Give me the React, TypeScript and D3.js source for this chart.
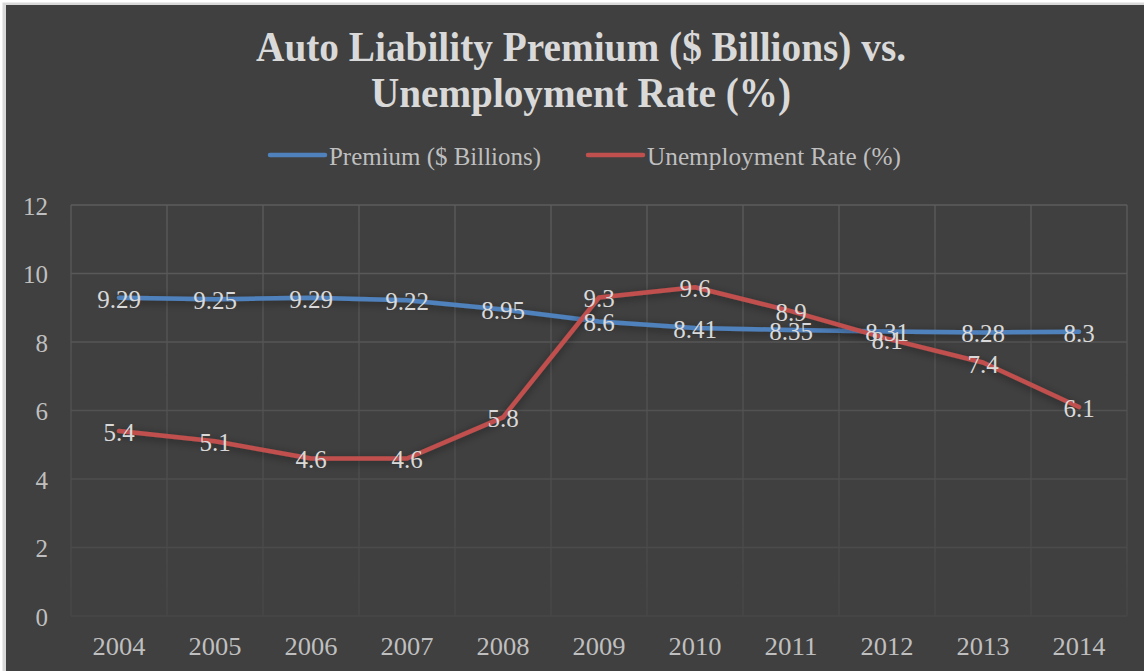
import React from 'react';
import * as d3 from 'd3';

const years = ['2004', '2005', '2006', '2007', '2008', '2009', '2010', '2011', '2012', '2013', '2014'];
const premium = [9.29, 9.25, 9.29, 9.22, 8.95, 8.6, 8.41, 8.35, 8.31, 8.28, 8.3];
const unemployment = [5.4, 5.1, 4.6, 4.6, 5.8, 9.3, 9.6, 8.9, 8.1, 7.4, 6.1];
const yTicks = [0, 2, 4, 6, 8, 10, 12];
const seriesNames = ['Premium ($ Billions)', 'Unemployment Rate (%)'];
const seriesColors = ['#4F81BD', '#C0504D'];
const titleLines = ['Auto Liability Premium ($ Billions) vs.', 'Unemployment Rate (%)'];

const W = 1144;
const H = 671;
const FONT = '"Liberation Serif", "DejaVu Serif", serif';

export default function App() {
  const x = d3.scaleBand<string>().domain(years).range([71, 1127]).padding(0);
  const y = d3.scaleLinear().domain([0, 12]).range([616, 205]);
  const cx = (d: string) => (x(d) as number) + x.bandwidth() / 2;
  const line = d3
    .line<number>()
    .x((_, i) => cx(years[i]))
    .y((v) => y(v))
    .curve(d3.curveLinear);
  const series = [premium, unemployment];
  const bounds = years.map((d) => x(d) as number).concat([1127]);

  return (
    <svg
      width={W}
      height={H}
      style={{ position: 'absolute', left: 0, top: 0, display: 'block' }}
    >
      <defs>
        <filter id="shadow" x="-20%" y="-50%" width="140%" height="200%">
          <feDropShadow dx="0" dy="2" stdDeviation="4" floodColor="#000" floodOpacity="0.45" />
        </filter>
        <linearGradient id="gridGrad" gradientUnits="userSpaceOnUse" x1="0" y1="205" x2="0" y2="616">
          <stop offset="0" stopColor="#5c5c5c" />
          <stop offset="1" stopColor="#474747" />
        </linearGradient>
      </defs>
      <rect x={0} y={0} width={W} height={H} fill="#ffffff" />
      <rect x={2.5} y={2.5} width={W} height={H} fill="#d9d9d9" />
      <rect x={6} y={5} width={W - 6} height={H - 5} fill="#404040" />

      {/* Title */}
      {titleLines.map((t, i) => (
        <text
          key={t}
          x={581}
          y={61 + i * 46}
          textAnchor="middle"
          fontFamily={FONT}
          fontWeight="bold"
          fontSize={43}
          fill="#d9d9d9"
          textLength={i === 0 ? 650 : 420}
          lengthAdjust="spacingAndGlyphs"
        >
          {t}
        </text>
      ))}

      {/* Legend */}
      {seriesNames.map((n, i) => {
        const x0 = i === 0 ? 270 : 588;
        const tl = i === 0 ? 212 : 254;
        return (
          <g key={n}>
            <line x1={x0} x2={x0 + 55} y1={155} y2={155} stroke={seriesColors[i]} strokeWidth={4.5} strokeLinecap="round" />
            <text
              x={x0 + 59}
              y={156}
              dominantBaseline="central"
              fontFamily={FONT}
              fontSize={25}
              fill="#bfbfbf"
              textLength={tl}
              lengthAdjust="spacingAndGlyphs"
            >
              {n}
            </text>
          </g>
        );
      })}

      {/* Gridlines */}
      {yTicks.map((t) => (
        <line key={'h' + t} x1={71} x2={1127} y1={y(t)} y2={y(t)} stroke="url(#gridGrad)" strokeWidth={1.3} />
      ))}
      {bounds.map((b, i) => (
        <line key={'v' + i} x1={b} x2={b} y1={205} y2={616} stroke="url(#gridGrad)" strokeWidth={1.3} />
      ))}

      {/* Y axis labels */}
      {yTicks.map((t) => (
        <text
          key={'yl' + t}
          x={48}
          y={y(t) + 1}
          textAnchor="end"
          dominantBaseline="central"
          fontFamily={FONT}
          fontSize={25}
          fill="#bfbfbf"
        >
          {t}
        </text>
      ))}

      {/* X axis labels */}
      {years.map((d) => (
        <text
          key={'xl' + d}
          x={cx(d)}
          y={646}
          textAnchor="middle"
          dominantBaseline="central"
          fontFamily={FONT}
          fontSize={25}
          fill="#bfbfbf"
          textLength={53}
          lengthAdjust="spacingAndGlyphs"
        >
          {d}
        </text>
      ))}

      {/* Lines */}
      {series.map((s, i) => (
        <path
          key={'line' + i}
          d={line(s) as string}
          fill="none"
          stroke={seriesColors[i]}
          strokeWidth={4.5}
          strokeLinecap="round"
          strokeLinejoin="round"
          filter="url(#shadow)"
        />
      ))}

      {/* Data labels */}
      {series.map((s, i) => (
        <g key={'labels' + i}>
          {s.map((v, j) => (
            <text
              key={j}
              x={cx(years[j])}
              y={y(v) + 1.5}
              textAnchor="middle"
              dominantBaseline="central"
              fontFamily={FONT}
              fontSize={25}
              fill="#d9d9d9"
            >
              {String(v)}
            </text>
          ))}
        </g>
      ))}
    </svg>
  );
}
